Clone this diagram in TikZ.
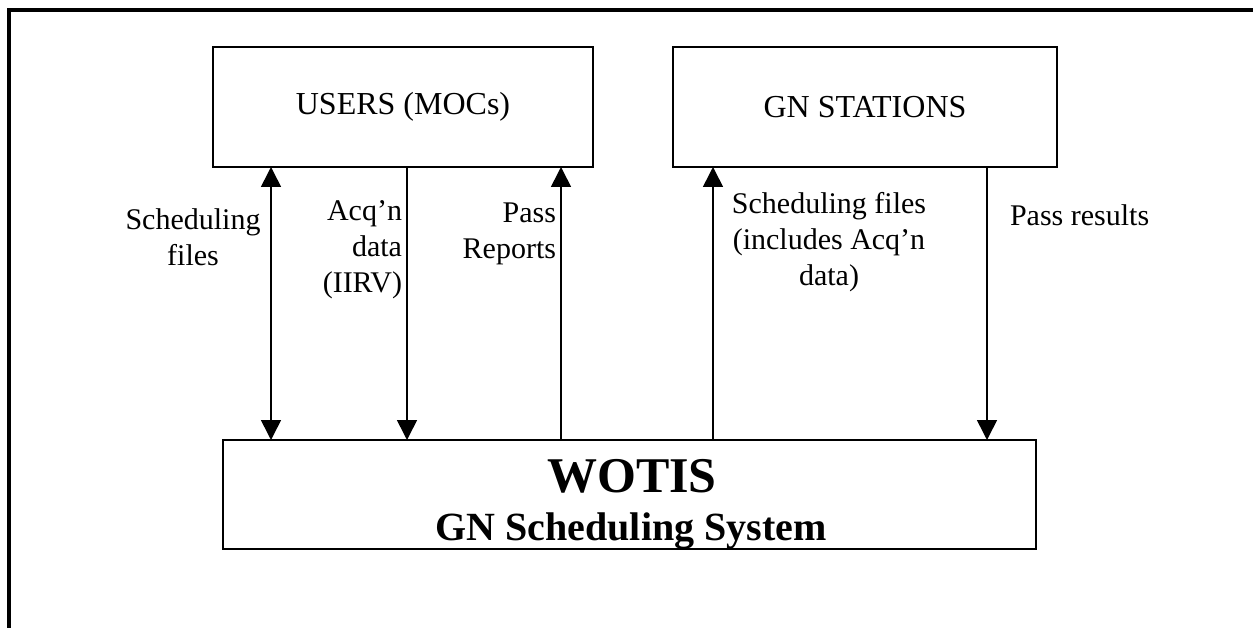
\documentclass[tikz,border=0pt]{standalone}
\usepackage{fontspec}
\setmainfont{Liberation Serif}
\usetikzlibrary{arrows.meta}
\begin{document}
\begin{tikzpicture}[x=1pt,y=-1pt,
  box/.style={draw,line width=2pt,inner sep=0pt,outer sep=0pt,font=\fontsize{32}{38}\selectfont},
  flow/.style={line width=1.6pt,-{Triangle[width=20pt,length=20pt]}},
  dflow/.style={line width=1.6pt,{Triangle[width=20pt,length=20pt]}-{Triangle[width=20pt,length=20pt]}},
  lbl/.style={inner sep=0pt,outer sep=0pt,font=\fontsize{30}{36}\selectfont},
  title/.style={inner sep=0pt,outer sep=0pt,font=\fontsize{50}{50}\selectfont\bfseries},
  subtitle/.style={inner sep=0pt,outer sep=0pt,font=\fontsize{40}{40}\selectfont\bfseries}]
\useasboundingbox (0,0) rectangle (1253,628);
% outer frame
\draw[line width=4pt] (9,628) -- (9,10) -- (1253,10);
% boxes
\node[box,minimum width=380pt,minimum height=120pt] (users) at (403,107) {USERS (MOCs)};
\node[box,minimum width=384pt,minimum height=120pt] (gn) at (865,107) {GN STATIONS};
\node[box,minimum width=813pt,minimum height=109pt] (wotis) at (629.5,494.5) {};
\node[title,anchor=base] (wtitle) at (632,492) {WOTIS};
\node[subtitle,anchor=base] (wsub) at (631,540) {GN Scheduling System};
% connector x positions
\coordinate (c1) at (271,0);
\coordinate (c2) at (407,0);
\coordinate (c3) at (561,0);
\coordinate (c4) at (713,0);
\coordinate (c5) at (987,0);
% connectors
\draw[dflow] (c1 |- users.south) -- (c1 |- wotis.north);
\draw[flow] (c2 |- users.south) -- (c2 |- wotis.north);
\draw[flow] (c3 |- wotis.north) -- (c3 |- users.south);
\draw[flow] (c4 |- wotis.north) -- (c4 |- gn.south);
\draw[flow] (c5 |- gn.south) -- (c5 |- wotis.north);
% labels
\node[lbl,align=center,anchor=north] (l1) at (193,209) {Scheduling\\files};
\node[lbl,align=right,anchor=north east] (l2) at (402,201) {Acq’n\\data\\(IIRV)};
\node[lbl,align=right,anchor=north east] (l3) at (556,203) {Pass\\Reports};
\node[lbl,align=center,anchor=north] (l4) at (829,192) {Scheduling files\\(includes Acq’n\\data)};
\node[lbl,align=left,anchor=north west] (l5) at (1010,205) {Pass results};
\end{tikzpicture}
\end{document}
